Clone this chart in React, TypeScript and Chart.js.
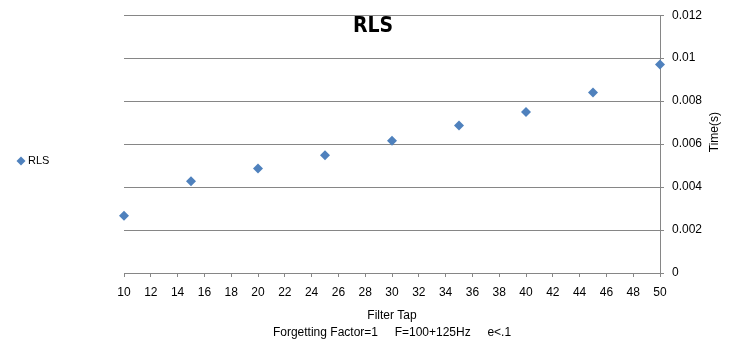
import React, { useEffect, useRef } from 'react';
import { Chart, registerables } from 'chart.js';

Chart.register(...registerables);

// ---- data ----
const filterTaps = [10, 15, 20, 25, 30, 35, 40, 45, 50];
const rlsTimes = [0.00267, 0.00427, 0.00486, 0.00548, 0.00616, 0.00686, 0.0075, 0.0084, 0.0097];
const seriesLabel = 'RLS';
const chartTitle = 'RLS';
const xTitleLines = ['Filter Tap', 'Forgetting Factor=1     F=100+125Hz     e<.1'];
const yTitle = 'Time(s)';
const xRange = [10, 50];
const xStep = 2;
const yRange = [0, 0.012];
const yStep = 0.002;

const TITLE_FONT = "'DejaVu Sans Condensed', 'Liberation Sans', Arial, sans-serif";
const BASE_FONT = "'Liberation Sans', Arial, sans-serif";
const BLUE = '#4F81BD';
const GRID = '#868686';

const overlayPlugin = {
  id: 'overlay',
  afterDraw(chart: any) {
    const { ctx, chartArea } = chart;
    const yScale = chart.scales.y;
    ctx.save();
    ctx.fillStyle = '#000';
    // chart title
    ctx.font = `bold 21px ${TITLE_FONT}`;
    ctx.textAlign = 'center';
    ctx.textBaseline = 'middle';
    ctx.fillText(chartTitle, chart.width / 2, chartArea.top + 11);

    // y title (reads bottom-to-top)
    ctx.save();
    ctx.font = `12px ${BASE_FONT}`;
    ctx.translate(yScale.right - 31, (chartArea.top + chartArea.bottom) / 2 - 12);
    ctx.rotate(-Math.PI / 2);
    ctx.fillText(yTitle, 0, 0);
    ctx.restore();

    // legend
    const ly = (chartArea.top + chartArea.bottom) / 2 + 17;
    const lx = 21;
    const r = 4.5;
    ctx.fillStyle = BLUE;
    ctx.beginPath();
    ctx.moveTo(lx, ly - r);
    ctx.lineTo(lx + r, ly);
    ctx.lineTo(lx, ly + r);
    ctx.lineTo(lx - r, ly);
    ctx.closePath();
    ctx.fill();
    ctx.fillStyle = '#000';
    ctx.font = `11px ${BASE_FONT}`;
    ctx.textAlign = 'left';
    ctx.fillText(seriesLabel, 28, ly);
    ctx.restore();
  },
};

export default function App() {
  const canvasRef = useRef<HTMLCanvasElement | null>(null);

  useEffect(() => {
    document.body.style.margin = '0';
    const canvas = canvasRef.current;
    if (!canvas) return;
    const chart = new Chart(canvas, {
      type: 'scatter',
      data: {
        datasets: [
          {
            label: seriesLabel,
            data: filterTaps.map((x, i) => ({ x, y: rlsTimes[i] })),
            pointStyle: 'rectRot',
            pointRadius: 5,
            pointBackgroundColor: BLUE,
            pointBorderColor: BLUE,
            pointBorderWidth: 0,
            clip: false,
          } as any,
        ],
      },
      options: {
        animation: false,
        responsive: false,
        devicePixelRatio: 1,
        layout: { padding: { left: 124, top: 15, right: 0, bottom: 0 } },
        plugins: {
          legend: { display: false },
          title: { display: false },
          tooltip: { enabled: false },
        },
        scales: {
          x: {
            type: 'linear',
            position: 'bottom',
            min: xRange[0],
            max: xRange[1],
            afterFit: (axis: any) => {
              axis.height = 83;
            },
            ticks: {
              stepSize: xStep,
              color: '#000',
              padding: 8,
              maxRotation: 0,
              autoSkip: false,
              font: { family: BASE_FONT, size: 12 },
            },
            grid: {
              drawOnChartArea: false,
              drawTicks: true,
              tickLength: 4,
              color: GRID,
            },
            border: { display: true, color: GRID },
            title: {
              display: true,
              text: xTitleLines,
              color: '#000',
              font: { family: BASE_FONT, size: 12, lineHeight: '17px' as any },
              padding: { top: 0, bottom: 14.5 },
            },
          },
          y: {
            type: 'linear',
            position: 'right',
            min: yRange[0],
            max: yRange[1],
            afterFit: (axis: any) => {
              axis.width = 86;
            },
            ticks: {
              stepSize: yStep,
              color: '#000',
              padding: 8,
              font: { family: BASE_FONT, size: 12 },
              callback: (v: any) => String(Number(Number(v).toFixed(4))),
            },
            grid: {
              drawTicks: true,
              tickLength: 4,
              color: GRID,
            },
            border: { display: true, color: GRID },
          },
        },
      },
      plugins: [overlayPlugin],
    });
    return () => chart.destroy();
  }, []);

  return (
    <canvas
      ref={canvasRef}
      width={746}
      height={356}
      style={{ display: 'block', width: 746, height: 356 }}
    />
  );
}
